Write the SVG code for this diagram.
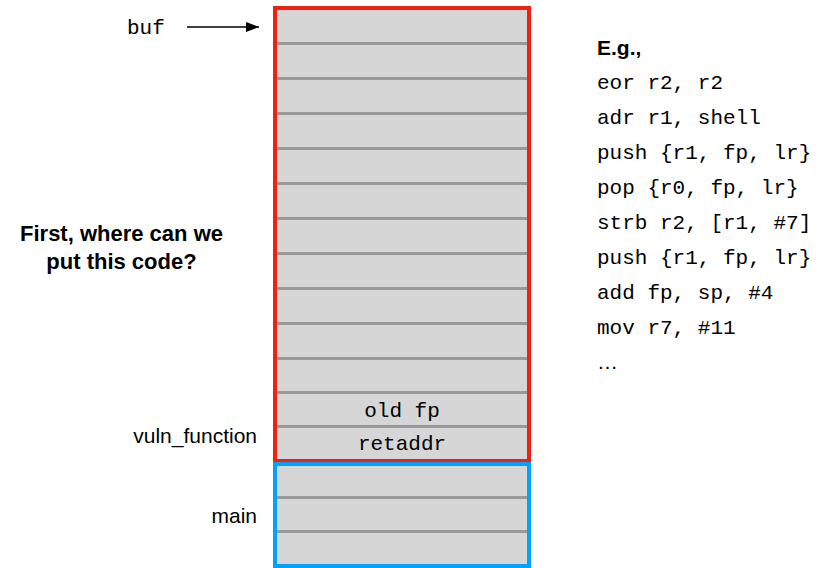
<svg xmlns="http://www.w3.org/2000/svg" width="836" height="568" viewBox="0 0 836 568">
<style>
.mono{font-family:"Liberation Mono","Courier New",monospace;font-size:21px;fill:#000}
.sans{font-family:"Liberation Sans",Arial,sans-serif;font-size:21px;fill:#000}
.q{font-size:22px}
.bold{font-weight:bold}
.cell{fill:#d6d6d6}
.div{stroke:#999;stroke-width:3}
</style>
<defs>
<marker id="ah" markerWidth="13" markerHeight="10" refX="13" refY="5" orient="auto" markerUnits="userSpaceOnUse">
<path d="M0,0 L13,5 L0,10 Z" fill="#000"/>
</marker>
</defs>
<rect width="836" height="568" fill="#fff"/>
<g id="vuln_frame">
<rect class="cell" x="275" y="8" width="254" height="453"/>
<g class="div">
<line x1="277" y1="43.5" x2="527" y2="43.5"/>
<line x1="277" y1="78.5" x2="527" y2="78.5"/>
<line x1="277" y1="113.5" x2="527" y2="113.5"/>
<line x1="277" y1="148.5" x2="527" y2="148.5"/>
<line x1="277" y1="183.5" x2="527" y2="183.5"/>
<line x1="277" y1="218.5" x2="527" y2="218.5"/>
<line x1="277" y1="253.5" x2="527" y2="253.5"/>
<line x1="277" y1="288.5" x2="527" y2="288.5"/>
<line x1="277" y1="323.5" x2="527" y2="323.5"/>
<line x1="277" y1="358.5" x2="527" y2="358.5"/>
<line x1="277" y1="392.5" x2="527" y2="392.5"/>
<line x1="277" y1="426.5" x2="527" y2="426.5"/>
</g>
<text class="mono" x="402" y="417" text-anchor="middle">old fp</text>
<text class="mono" x="402" y="450" text-anchor="middle">retaddr</text>
<rect x="275" y="8" width="254" height="453" fill="none" stroke="#ee2211" stroke-width="4"/>
</g>
<g id="main_frame">
<rect class="cell" x="275" y="464" width="254" height="102"/>
<g class="div">
<line x1="277" y1="497.5" x2="527" y2="497.5"/>
<line x1="277" y1="531.5" x2="527" y2="531.5"/>
</g>
<rect x="275" y="464" width="254" height="102" fill="none" stroke="#00a2ff" stroke-width="4"/>
</g>
<g id="buf_label">
<text class="mono" x="127" y="34">buf</text>
</g>
<g id="connectors">
<line x1="187" y1="27" x2="259" y2="27" stroke="#000" stroke-width="1.6" marker-end="url(#ah)"/>
</g>
<g id="question">
<text class="sans bold q" x="121.5" y="241" text-anchor="middle">First, where can we</text>
<text class="sans bold q" x="121.5" y="269" text-anchor="middle">put this code?</text>
</g>
<g id="frame_labels">
<text class="sans" x="257" y="443" text-anchor="end">vuln_function</text>
<text class="sans" x="257" y="523" text-anchor="end">main</text>
</g>
<g id="code">
<text class="sans bold" x="597" y="55">E.g.,</text>
<text class="mono" x="597" y="89">eor r2, r2</text>
<text class="mono" x="597" y="124">adr r1, shell</text>
<text class="mono" x="597" y="159">push {r1, fp, lr}</text>
<text class="mono" x="597" y="194">pop {r0, fp, lr}</text>
<text class="mono" x="597" y="229">strb r2, [r1, #7]</text>
<text class="mono" x="597" y="264">push {r1, fp, lr}</text>
<text class="mono" x="597" y="299">add fp, sp, #4</text>
<text class="mono" x="597" y="334">mov r7, #11</text>
<text class="sans" x="597" y="369">…</text>
</g>
</svg>
